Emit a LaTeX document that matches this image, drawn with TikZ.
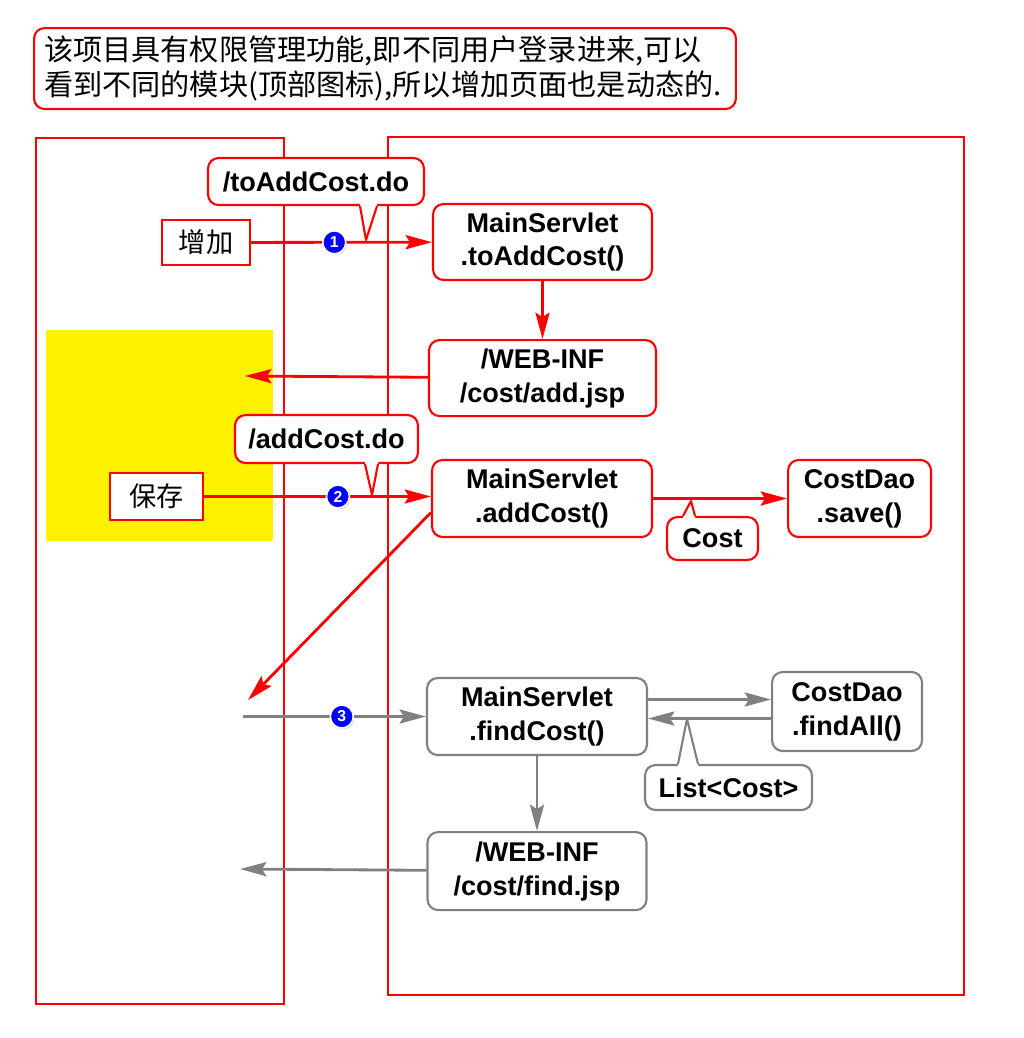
\documentclass[tikz,border=0pt]{standalone}
\usepackage{fontspec}
\setmainfont{Liberation Sans}
\newfontfamily\cjk{Noto Sans CJK SC}
\usetikzlibrary{arrows.meta, positioning, calc, shadows}
\tikzset{
    box/.style={draw=red, line width=1.2pt, fill=white, rounded corners=6pt, align=center, inner sep=0pt, font=\bfseries\fontsize{15.4}{19.3}\selectfont},
    graybox/.style={box, draw=gray},
    tag/.style={box, minimum height=0.94cm},
    btn/.style={draw=red, line width=1.2pt, fill=white, inner sep=0pt, font=\cjk\fontsize{15.5}{18}\selectfont},
    arrow/.style={-{Stealth[length=15pt, width=8pt, inset=2.5pt]}, line width=1.6pt, red},
    grayarrow/.style={arrow, gray},
    pointer/.style={draw=red, line width=1.2pt, line join=round},
    num/.style={circle, fill=blue, draw=white, line width=0.9pt, text=white, inner sep=0pt, minimum size=0.46cm, font=\bfseries\fontsize{9}{9}\selectfont, drop shadow={opacity=0.35, shadow xshift=0.7pt, shadow yshift=-0.7pt}},
    column/.style={draw=red, line width=1.5pt}
}

\begin{document}
\begin{tikzpicture}[x=0.02cm, y=-0.02cm]
        \useasboundingbox (0,0) rectangle (1024,1038);
        % note on top
        \node [box, anchor=north west, align=left, text width=13.64cm, inner xsep=0.2cm, minimum height=1.62cm, font=\cjk\fontsize{16.6}{20.4}\selectfont] (note) at (33,27) {该项目具有权限管理功能,即不同用户登录进来,可以\\看到不同的模块(顶部图标),所以增加页面也是动态的.};
        % browser and server
        \fill [yellow] (46,330) rectangle (273,541);
        \draw [column] (36,138) rectangle (284,1004);
        \draw [column] (388,137) rectangle (964,995);
        % boxes
        \node [btn, minimum width=1.76cm, minimum height=0.9cm] (add) at (206,242.5) {增加};
        \node [box, minimum width=4.38cm, minimum height=1.52cm] (toadd) at (542.5,242) {MainServlet\\.toAddCost()};
        \node [box, below=1.16cm of toadd, minimum width=4.54cm, minimum height=1.52cm] (addjsp) {/WEB-INF\\/cost/add.jsp};
        \node [btn, minimum width=1.86cm, minimum height=0.94cm] (keep) at (156.5,496.5) {保存};
        \node [box, minimum width=4.4cm, minimum height=1.54cm] (addcost) at (542,498.5) {MainServlet\\.addCost()};
        \node [box, right=2.68cm of addcost, minimum width=2.86cm, minimum height=1.54cm] (save) {CostDao\\.save()};
        \node [graybox, minimum width=4.4cm, minimum height=1.54cm] (findcost) at (537,716.5) {MainServlet\\.findCost()};
        \node [graybox, right=2.46cm of findcost, yshift=0.1cm, minimum width=3cm, minimum height=1.58cm] (findall) {CostDao\\.findAll()};
        \node [graybox, below=1.5cm of findcost, minimum width=4.38cm, minimum height=1.56cm] (findjsp) {/WEB-INF\\/cost/find.jsp};
        % free ends
        \coordinate (back1) at (245,376);
        \coordinate (back2) at (248,700);
        \coordinate (ret) at (243,716.5);
        \coordinate (back3) at (240,869);
        \coordinate (out) at ($(findcost.east)+(0,-17)$);
        \coordinate (in) at ($(findall.west)+(0,7)$);
        % arrows
        \draw [arrow] (add) -- node [num, pos=0.46] {1} (toadd);
        \draw [arrow] (toadd) -- (addjsp);
        \draw [arrow] (addjsp) -- (back1);
        \draw [arrow] (keep.east) -- node [num, pos=0.59] {2} (keep.east -| addcost.west);
        \draw [arrow] (addcost.east) -- (addcost.east -| save.west);
        \draw [arrow] ($(addcost.west)+(0,14)$) -- (back2);
        \draw [grayarrow] (ret) -- node [num, pos=0.54] {3} (findcost);
        \draw [grayarrow] (out) -- (out -| findall.west);
        \draw [grayarrow] (in) -- (in -| findcost.east);
        \draw [grayarrow] (findcost) -- (findjsp);
        \draw [grayarrow] (findjsp) -- (back3);
        % callouts
        \node [tag, minimum width=4.32cm] (todo) at (316,181.5) {/toAddCost.do};
        \coordinate (tip1) at (366,240);
        \fill [white] ($(todo.south)+(44,-3)$) -- ($(todo.south)+(44,0)$) -- (tip1) -- ($(todo.south)+(61,0)$) -- ($(todo.south)+(61,-3)$) -- cycle;
        \draw [pointer] ($(todo.south)+(44,0)$) -- (tip1) -- ($(todo.south)+(61,0)$);
        \node [tag, minimum width=3.66cm, minimum height=0.96cm] (ado) at (326.5,439) {/addCost.do};
        \coordinate (tip2) at (372,495);
        \fill [white] ($(ado.south)+(38.5,-3)$) -- ($(ado.south)+(38.5,0)$) -- (tip2) -- ($(ado.south)+(51.5,0)$) -- ($(ado.south)+(51.5,-3)$) -- cycle;
        \draw [pointer] ($(ado.south)+(38.5,0)$) -- (tip2) -- ($(ado.south)+(51.5,0)$);
        \node [tag, minimum width=1.82cm, minimum height=0.86cm] (cost) at (712.5,538.5) {Cost};
        \coordinate (tip3) at (691,501);
        \fill [white] ($(cost.north)+(-29.5,3)$) -- ($(cost.north)+(-29.5,0)$) -- (tip3) -- ($(cost.north)+(-17.5,0)$) -- ($(cost.north)+(-17.5,3)$) -- cycle;
        \draw [pointer] ($(cost.north)+(-29.5,0)$) -- (tip3) -- ($(cost.north)+(-17.5,0)$);
        \node [tag, draw=gray, minimum width=3.34cm, minimum height=0.9cm] (list) at (728.5,787.5) {List<Cost>};
        \coordinate (tip4) at (687,719);
        \fill [white] ($(list.north)+(-50.5,3)$) -- ($(list.north)+(-50.5,0)$) -- (tip4) -- ($(list.north)+(-30.5,0)$) -- ($(list.north)+(-30.5,3)$) -- cycle;
        \draw [pointer, draw=gray] ($(list.north)+(-50.5,0)$) -- (tip4) -- ($(list.north)+(-30.5,0)$);
    \end{tikzpicture}
\end{document}
